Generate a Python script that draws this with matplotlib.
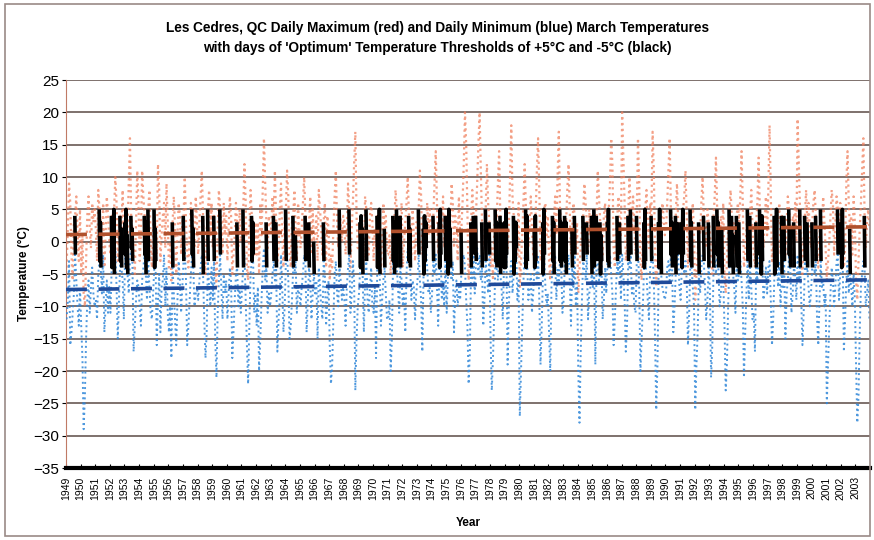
import matplotlib
matplotlib.use("Agg")
import matplotlib.pyplot as plt
import numpy as np
from matplotlib.patches import Rectangle

plt.rcParams["font.family"] = ["Liberation Sans", "DejaVu Sans"]

# ---------------- data (12 samples per March) -----------
YEARS = list(range(1949, 2004))

TMAX = [
    [-4, 2, 9, 6, -2, -6, 3, 4, 7, 1, -3, 5],        # 1949
    [-5, 1, -8, -10, -3, 4, 7, 2, -1, 6, 3, 5],      # 1950
    [2, -3, 8, 5, 3, -1, 6, -4, 1, 7, 4, 0],         # 1951
    [-2, 4, 3, 5, 10, 6, -3, 1, 4, 2, 8, -1],        # 1952
    [3, 5, 1, 9, 16, 4, 2, -2, -5, 3, 11, 6],        # 1953
    [-3, 1, 11, 7, 4, 3, -1, 5, 8, 0, -4, 2],        # 1954
    [5, 2, -2, 12, 8, -3, 1, 4, 6, -1, 9, 3],        # 1955
    [-4, 0, -6, 3, 7, 2, -5, 1, 6, 4, -2, 3],        # 1956
    [4, 10, 3, -2, -4, 1, 6, 5, 2, -1, 7, 3],        # 1957
    [-2, 3, 7, 11, 4, -3, -5, 2, 5, 8, 1, 6],        # 1958
    [-1, 4, -4, -7, 2, 8, 5, 3, -2, 6, 1, 4],        # 1959
    [-3, 2, 7, 4, -5, -2, 1, 6, 3, -1, 5, 0],        # 1960
    [1, 5, 12, 6, -4, -6, 2, 8, 4, 3, -2, 3],        # 1961
    [-2, 3, -5, 6, 1, 8, 16, 9, 3, -1, 4, 2],        # 1962
    [2, 7, 4, 11, 3, -3, -1, 5, 9, 1, -4, 3],        # 1963
    [5, 11, 7, -2, -4, 3, 4, 8, 1, -3, 6, 2],        # 1964
    [-1, 2, 6, 10, 4, -3, 1, 3, 7, -2, 5, 0],        # 1965
    [1, 4, -3, 8, 5, 2, -2, 3, 6, -4, 4, 2],         # 1966
    [-6, -2, -4, 2, 7, 11, 3, -1, 5, 3, 0, 4],       # 1967
    [3, -2, 1, 9, 5, -4, 2, 6, 12, 17, 4, -1],       # 1968
    [0, 3, 4, 2, -3, 7, 5, 1, -2, 4, 6, 3],          # 1969
    [-3, 2, -1, 4, 3, 5, -5, 1, 6, 2, 4, -2],        # 1970
    [-2, 1, -5, -1, 4, 3, 8, 5, 2, -3, 4, 6],        # 1971
    [-4, 0, 3, 6, 10, 4, 2, -2, 5, 1, -3, 3],        # 1972
    [3, 5, 11, 7, -2, 2, 4, 3, 6, 1, 5, 2],          # 1973
    [1, 4, 9, 14, 6, -2, 3, 5, 2, 7, -1, 4],         # 1974
    [-2, 3, 5, 2, 9, 6, -1, 4, 3, -3, 7, 1],         # 1975
    [2, 6, 12, 20, 15, 4, -6, -3, 3, 8, 4, 1],       # 1976
    [4, 9, 15, 20, 11, 3, -2, 2, 5, 12, 6, 3],       # 1977
    [-4, -1, -6, 2, 5, 3, 9, 14, 4, 1, -2, 3],       # 1978
    [3, 5, -1, 2, 10, 18, 7, 4, 2, 3, -2, 6],        # 1979
    [-7, -3, 1, 6, 12, 5, 4, -1, 3, 7, 2, -2],       # 1980
    [2, 4, 11, 16, 8, -3, -1, 3, 5, 6, 1, 4],        # 1981
    [-3, -6, 2, 4, 3, 7, 1, 10, 17, 5, 3, -1],       # 1982
    [1, 4, 3, 8, 12, 5, -2, 2, 6, 4, -1, 3],         # 1983
    [-8, -4, -1, 2, 4, 9, 6, 3, -2, 5, 1, 4],        # 1984
    [2, 5, -3, 4, 11, 7, 3, 1, -2, 4, 6, 2],         # 1985
    [3, 5, 9, 16, 12, -1, -4, 2, 4, 7, 3, 1],        # 1986
    [20, 13, 6, -3, -1, 4, 10, 5, 2, 7, 3, -2],      # 1987
    [4, 16, 9, -3, -6, 1, 3, 5, 8, 2, -1, 6],        # 1988
    [4, 17, 11, -2, -7, -3, 3, 5, 2, 6, 4, 1],       # 1989
    [2, 6, 11, 16, 5, 3, -2, 1, 4, 9, 3, -1],        # 1990
    [-1, 3, 5, 7, 11, 4, -4, 2, 5, 3, 6, 1],         # 1991
    [-9, -5, -2, 3, 1, 6, 10, 4, 2, -1, 5, 3],       # 1992
    [2, -3, -5, 4, 7, 13, 5, 3, -1, 4, 2, 6],        # 1993
    [-5, -8, -3, 2, 5, 8, 4, 1, 3, -2, 4, 6],        # 1994
    [3, 7, 14, 6, -4, -2, 2, 5, -1, 4, 8, 2],        # 1995
    [-2, -4, 3, 6, 13, 5, 2, 4, -1, 3, 7, 1],        # 1996
    [8, 18, 7, -3, -1, 4, 2, 5, 3, 6, -2, 4],        # 1997
    [1, 4, -2, 3, 7, 5, 2, -3, 4, 3, 6, 0],          # 1998
    [19, 12, 5, -2, -5, 1, 4, 8, 3, 6, 2, -1],       # 1999
    [3, 6, 8, 4, -2, -4, 1, 5, 2, 7, 3, -1],         # 2000
    [-6, -3, 0, 4, 8, 6, -2, 3, 7, 5, 2, 6],         # 2001
    [3, 5, -4, -1, 9, 14, 6, 2, 4, -2, 7, 3],        # 2002
    [-6, -9, -3, 2, 6, 11, 16, 4, -1, 3, 5, 2],      # 2003
]

TMIN = [
    [-12, -9, -3, -16, -14, -11, -8, -2, -6, -10, -13, -7],    # 1949
    [-13, -18, -29, -24, -15, -9, -6, -11, -7, -4, -8, -10],   # 1950
    [-9, -12, -5, -3, -4, -8, -2, -14, -10, -6, -11, -7],      # 1951
    [-11, -4, -2, -5, -1, -7, -15, -9, -3, -4, -6, -12],       # 1952
    [-2, -4, -5, -8, -3, -1, -3, -17, -13, -9, -6, -7],        # 1953
    [-10, -13, -6, -4, -2, -5, -9, -3, -7, -11, -12, -8],      # 1954
    [-4, -3, -16, -9, -5, -14, -7, -6, -2, -10, -4, -11],      # 1955
    [-14, -10, -18, -4, -8, -12, -16, -9, -3, -6, -11, -7],    # 1956
    [-3, -1, -6, -16, -13, -9, -5, -2, -4, -10, -8, -7],       # 1957
    [-9, -6, -4, -2, -5, -12, -18, -14, -3, -7, -10, -4],      # 1958
    [-9, -3, -15, -21, -11, -6, -2, -7, -12, -5, -8, -6],      # 1959
    [-12, -8, -4, -6, -18, -14, -9, -5, -4, -10, -7, -11],     # 1960
    [-7, -4, -2, -9, -16, -22, -13, -5, -3, -2, -11, -8],      # 1961
    [-13, -7, -20, -15, -9, -4, -1, -6, -4, -11, -8, -10],     # 1962
    [-8, -5, -3, -6, -4, -17, -12, -9, -2, -7, -14, -10],      # 1963
    [-3, -2, -6, -15, -13, -9, -4, -5, -3, -11, -7, -8],       # 1964
    [-10, -7, -5, -2, -3, -14, -9, -4, -6, -12, -8, -5],       # 1965
    [-8, -6, -15, -4, -7, -10, -12, -3, -5, -13, -9, -6],      # 1966
    [-16, -22, -19, -12, -5, -3, -8, -10, -4, -6, -9, -7],     # 1967
    [-9, -13, -7, -4, -2, -11, -8, -3, -6, -23, -15, -10],     # 1968
    [-8, -4, -2, -5, -14, -6, -3, -9, -11, -7, -4, -10],       # 1969
    [-11, -7, -18, -4, -2, -5, -13, -9, -6, -4, -8, -12],      # 1970
    [-12, -9, -20, -15, -3, -5, -2, -4, -7, -11, -4, -6],      # 1971
    [-10, -8, -14, -5, -1, -3, -4, -9, -6, -7, -12, -8],       # 1972
    [-6, -2, -6, -9, -17, -5, -3, -1, -4, -8, -7, -11],        # 1973
    [-8, -3, -5, -2, -7, -13, -4, -2, -9, -6, -10, -3],        # 1974
    [-11, -5, -2, -4, -6, -3, -14, -8, -6, -10, -7, -9],       # 1975
    [-5, -3, -2, -4, -9, -13, -22, -17, -4, -6, -2, -8],       # 1976
    [-3, -1, -5, -2, -6, -4, -13, -9, -3, -5, -8, -2],         # 1977
    [-15, -23, -18, -11, -3, -4, -6, -2, -5, -7, -12, -4],     # 1978
    [-4, -2, -19, -10, -5, -3, -8, -5, -3, -1, -9, -6],        # 1979
    [-27, -20, -13, -6, -2, -4, -3, -9, -7, -5, -11, -8],      # 1980
    [-4, -3, -6, -2, -9, -19, -13, -5, -2, -7, -10, -8],       # 1981
    [-14, -20, -7, -3, -5, -2, -9, -4, -6, -3, -4, -11],       # 1982
    [-9, -3, -5, -4, -2, -6, -13, -4, -7, -2, -10, -6],        # 1983
    [-20, -28, -17, -9, -3, -4, -6, -2, -12, -8, -7, -5],      # 1984
    [-7, -4, -19, -3, -2, -6, -5, -3, -12, -9, -4, -8],        # 1985
    [-3, -4, -2, -5, -8, -16, -12, -7, -3, -5, -2, -9],        # 1986
    [-2, -5, -9, -17, -13, -3, -4, -2, -8, -6, -10, -11],      # 1987
    [-3, -1, -7, -20, -15, -10, -4, -3, -5, -9, -12, -4],      # 1988
    [-3, -2, -6, -15, -26, -19, -4, -2, -5, -7, -8, -9],       # 1989
    [-8, -4, -3, -6, -2, -4, -14, -10, -5, -3, -2, -7],        # 1990
    [-9, -4, -2, -5, -3, -6, -16, -11, -3, -4, -7, -10],       # 1991
    [-26, -19, -14, -5, -8, -4, -2, -3, -7, -12, -9, -4],      # 1992
    [-7, -21, -16, -4, -3, -5, -2, -4, -10, -8, -5, -6],       # 1993
    [-13, -23, -19, -10, -4, -3, -2, -5, -7, -11, -4, -6],     # 1994
    [-5, -3, -6, -10, -21, -14, -8, -3, -9, -4, -7, -12],      # 1995
    [-11, -17, -4, -6, -3, -2, -5, -3, -9, -7, -4, -8],        # 1996
    [-4, -3, -9, -16, -12, -5, -2, -4, -7, -3, -10, -5],       # 1997
    [-7, -3, -15, -8, -6, -2, -4, -11, -8, -4, -5, -9],        # 1998
    [-2, -6, -4, -9, -16, -11, -3, -5, -4, -7, -10, -8],       # 1999
    [-4, -2, -5, -3, -12, -16, -9, -3, -7, -6, -10, -8],       # 2000
    [-25, -19, -13, -8, -4, -6, -10, -7, -3, -2, -9, -5],      # 2001
    [-4, -2, -17, -12, -6, -3, -8, -5, -7, -10, -5, -9],       # 2002
    [-19, -28, -24, -14, -7, -5, -3, -4, -10, -8, -6, -12],    # 2003
]

# linear trend lines (value at first and last year)
TREND_MAX = [1.1, 2.3]
TREND_MIN = [-7.4, -5.9]

# 'optimum' thresholds
UPPER, LOWER = 5, -5


def main() -> None:
    tmax = np.array(TMAX, dtype=float)
    tmin = np.array(TMIN, dtype=float)
    n_year, n_day = tmax.shape
    x = (np.arange(n_year)[:, None] + (np.arange(n_day)[None, :] + 0.5) / n_day)

    fig = plt.figure(figsize=(8.74, 5.40), dpi=100)
    ax = fig.add_axes([0.0755, 0.1333, 0.92, 0.7185])

    for yv in range(-30, 30, 5):
        ax.axhline(yv, color="#5b4a45", lw=1.1, zorder=1)

    ax.plot(x.ravel(), tmax.ravel(), ls=":", lw=1.6, color="#f0805e",
            alpha=0.75, zorder=2)
    ax.plot(x.ravel(), tmin.ravel(), ls=":", lw=1.4, color="#2f86d8",
            alpha=0.85, zorder=3)

    # black: days with max <= +5 and min >= -5, drawn max -> min
    ok = (tmax <= UPPER) & (tmin >= LOWER)
    bx, by = [], []
    xs, mx, mn, flag = x.ravel(), tmax.ravel(), tmin.ravel(), ok.ravel()
    q = 0.25 / n_day
    for i in range(len(xs)):
        if flag[i]:
            bx += [xs[i] - q, xs[i] + q]
            by += [mx[i], mn[i]]
        else:
            bx.append(np.nan)
            by.append(np.nan)
    ax.plot(bx, by, color="black", lw=2.6, solid_capstyle="butt", zorder=4)

    ends = [0, n_year]
    ax.plot(ends, TREND_MAX, color="#b0502c", lw=2.6, dashes=(5.8, 3.2), zorder=5)
    ax.plot(ends, TREND_MIN, color="#1f4a9a", lw=2.6, dashes=(5.8, 3.2), zorder=5)

    ax.set_xlim(0, n_year)
    ax.set_ylim(-35, 25)
    ax.set_yticks(range(-35, 30, 5))
    ax.set_xticks(np.arange(n_year))
    ax.set_xticklabels([str(y) for y in YEARS], rotation=90, fontsize=7.5)
    ax.tick_params(axis="x", direction="in", length=3, pad=6)
    ax.tick_params(axis="y", length=3, labelsize=11, pad=2)

    for s in ["top", "right"]:
        ax.spines[s].set_visible(False)
    ax.spines["bottom"].set_linewidth(3)
    ax.spines["bottom"].set_color("black")
    ax.spines["left"].set_color("#c07a66")

    ax.set_ylabel("Temperature (°C)", fontsize=8.5, fontweight="bold", labelpad=2)
    ax.set_xlabel("Year", fontsize=8.5, fontweight="bold", labelpad=12)

    fig.text(0.5, 0.948, "Les Cedres, QC Daily Maximum (red) and Daily Minimum "
             "(blue) March Temperatures", ha="center", va="center",
             fontsize=9.8, fontweight="bold")
    fig.text(0.5, 0.911, "with days of 'Optimum' Temperature Thresholds of "
             "+5°C and -5°C (black)", ha="center", va="center",
             fontsize=9.8, fontweight="bold")

    fig.patches.append(Rectangle((0.006, 0.008), 0.989, 0.984,
                                 transform=fig.transFigure, fill=False,
                                 edgecolor="#9a8a86", lw=1.2))

    fig.savefig("out.png", dpi=100)
    plt.close(fig)


if __name__ == "__main__":
    main()
